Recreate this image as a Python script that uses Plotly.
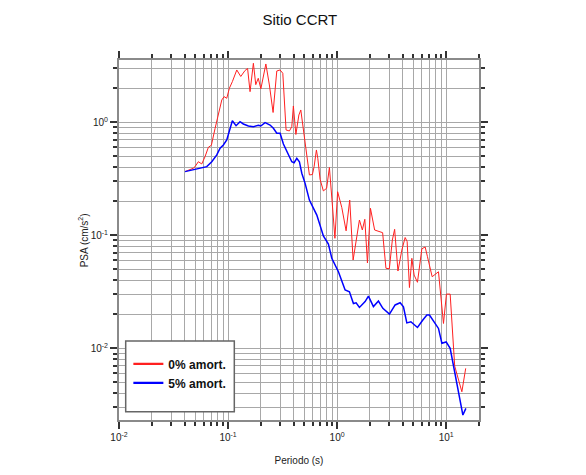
import plotly.graph_objects as go

# Periods (s) and PSA (cm/s^2)
t_0 = [0.0403, 0.0480, 0.0498, 0.0534, 0.0574, 0.0615, 0.0660, 0.0703, 0.0760, 0.0818,
       0.0876, 0.0919, 0.0973, 0.1028, 0.1095, 0.1202, 0.1308, 0.1432, 0.1510, 0.1591,
       0.1707, 0.1795, 0.1892, 0.2000, 0.2222, 0.2393, 0.2587, 0.2798, 0.300, 0.3177,
       0.3404, 0.3650, 0.3841, 0.3973, 0.4188, 0.4462, 0.4645, 0.4845, 0.5087, 0.5272,
       0.557, 0.5935, 0.6152, 0.6459, 0.6652, 0.6982, 0.7485, 0.8012, 0.850, 0.9094,
       0.9545, 1.011, 1.104, 1.209, 1.305, 1.402, 1.503, 1.602, 1.703, 1.795,
       1.897, 2.021, 2.208, 2.615, 2.804, 3.012, 3.209, 3.369, 3.613, 3.923,
       4.206, 4.387, 4.605, 4.845, 5.085, 5.454, 5.984, 6.416, 6.736, 7.440,
       8.50, 9.445, 10.06, 10.88, 11.97, 13.93, 15.10]
psa_0 = [0.366, 0.392, 0.405, 0.448, 0.428, 0.496, 0.601, 0.626, 0.881, 1.234,
         1.575, 1.685, 1.631, 2.0, 2.288, 2.902, 2.543, 2.873, 2.993, 1.866,
         3.327, 2.151, 2.451, 1.979, 3.280, 2.138, 1.221, 2.844, 2.902, 2.714,
         0.855, 0.838, 0.914, 1.394, 0.780, 1.160, 1.285, 0.946, 0.652, 0.496,
         0.342, 0.345, 0.405, 0.569, 0.480, 0.312, 0.247, 0.2606, 0.398, 0.1745,
         0.0941, 0.243, 0.176, 0.1096, 0.205, 0.0605, 0.0956, 0.1366, 0.1114, 0.1386,
         0.0569, 0.1734, 0.1114, 0.1055, 0.0511, 0.0506, 0.0908, 0.113, 0.0483, 0.0741,
         0.0956, 0.0881, 0.0345, 0.0626, 0.0445, 0.0384, 0.0760, 0.0788, 0.0647, 0.0430,
         0.0476, 0.0166, 0.0302, 0.0302, 0.00697, 0.00413, 0.00665]

t_5 = [0.0403, 0.0498, 0.0638, 0.0709, 0.0788, 0.0845, 0.0906, 0.0973, 0.1028, 0.1095,
       0.1184, 0.1288, 0.1381, 0.1536, 0.1707, 0.1897, 0.1995, 0.2185, 0.2428, 0.2604,
       0.2798, 0.300, 0.3217, 0.3455, 0.3841, 0.4031, 0.4268, 0.4510, 0.4744, 0.5087,
       0.557, 0.6515, 0.7485, 0.832, 0.894, 1.028, 1.184, 1.297, 1.411, 1.494,
       1.602, 1.806, 1.937, 2.153, 2.393, 2.627, 3.019, 3.405, 3.784, 4.058,
       4.358, 4.745, 5.454, 6.111, 6.651, 7.028, 7.929, 8.500, 9.134, 10.0,
       10.88, 11.67, 12.54, 14.23, 15.16]
psa_5 = [0.366, 0.386, 0.405, 0.448, 0.514, 0.589, 0.630, 0.697, 0.855, 1.033,
         0.933, 1.012, 0.966, 0.927, 0.914, 0.941, 0.927, 0.992, 0.946, 0.885,
         0.799, 0.799, 0.643, 0.549, 0.448, 0.439, 0.480, 0.448, 0.354, 0.288,
         0.205, 0.151, 0.0986, 0.0838, 0.0626, 0.0476, 0.0328, 0.0317, 0.0249, 0.0253,
         0.0230, 0.0259, 0.0290, 0.0234, 0.0262, 0.0226, 0.0201, 0.0242, 0.0253, 0.0233,
         0.0168, 0.0172, 0.0153, 0.0178, 0.0197, 0.0197, 0.0166, 0.0150, 0.0111, 0.0114,
         0.0100, 0.00687, 0.0049, 0.00257, 0.00294]

series_names = ["<b>0% amort.</b>", "<b>5% amort.</b>"]
series_colors = ["#ff2020", "#0000ff"]

x_major = [0.01, 0.1, 1, 10]
x_major_text = ["10<sup>-2</sup>", "10<sup>-1</sup>", "10<sup>0</sup>", "10<sup>1</sup>"]
y_major = [0.01, 0.1, 1]
y_major_text = ["10<sup>-2</sup>", "10<sup>-1</sup>", "10<sup>0</sup>"]

x_minor = [m * 10 ** e for e in (-2, -1, 0, 1) for m in range(1, 10) if m * 10 ** e <= 20] + [20]
y_minor = [m * 10 ** e for e in (-3, -2, -1, 0) for m in range(1, 10) if 0.002 <= m * 10 ** e <= 3.6]

FONT = "Liberation Sans, Arial, Helvetica, sans-serif"
GRID = "#a8a8a8"
AX = "#8a8a8a"

fig = go.Figure()
fig.add_trace(go.Scatter(x=t_0, y=psa_0, mode="lines", showlegend=False,
                         line=dict(color=series_colors[0], width=1)))
fig.add_trace(go.Scatter(x=t_5, y=psa_5, mode="lines", showlegend=False,
                         line=dict(color=series_colors[1], width=1.5)))
# legend entries (thicker sample lines, no data drawn)
for nm, col in zip(series_names, series_colors):
    fig.add_trace(go.Scatter(x=[None], y=[None], mode="lines", name=nm,
                             line=dict(color=col, width=2.2)))

axis_common = dict(type="log", showline=True, linecolor=AX, linewidth=2, mirror="ticks",
                   ticks="outside", ticklen=7, tickwidth=2, tickcolor="#333",
                   showgrid=True, gridcolor=GRID, gridwidth=1, zeroline=False, automargin=False,
                   tickfont=dict(size=10, color="#222", family=FONT))

fig.update_xaxes(**axis_common, range=[-2, 1.30103], tickvals=x_major, ticktext=x_major_text,
                 minor=dict(tickvals=x_minor, ticks="outside", ticklen=4, tickcolor="#333",
                            tickwidth=1.5, showgrid=True, gridcolor=GRID, gridwidth=1),
                 title=dict(text="Periodo (s)", font=dict(size=10, color="#222", family=FONT), standoff=15))
fig.update_yaxes(**axis_common, range=[-2.634, 0.551], tickvals=y_major, ticktext=y_major_text,
                 minor=dict(tickvals=y_minor, ticks="outside", ticklen=4, tickcolor="#333",
                            tickwidth=1.5, showgrid=True, gridcolor=GRID, gridwidth=1))

fig.add_annotation(text="PSA (cm/s<sup>2</sup>)", xref="paper", yref="paper", x=-0.099, y=0.5,
                   xanchor="center", yanchor="middle", textangle=-90, showarrow=False,
                   font=dict(size=10, color="#222", family=FONT))

# legend frame
fig.add_shape(type="rect", xref="paper", yref="paper", x0=0.0186, x1=0.3203, y0=0.023, y1=0.2194,
              line=dict(color="#666", width=1.5), fillcolor="white", layer="above")

fig.update_layout(
    width=578, height=467,
    margin=dict(l=111, r=107, t=52, b=55, autoexpand=False),
    paper_bgcolor="white", plot_bgcolor="white",
    title=dict(text="Sitio CCRT", x=0.505, xanchor="center", y=0.9743, yanchor="middle",
               yref="container", font=dict(size=15, color="#111", family=FONT)),
    font=dict(family=FONT),
    showlegend=True,
    legend=dict(x=0.026, y=0.196, xanchor="left", yanchor="top",
                bgcolor="rgba(0,0,0,0)", borderwidth=0,
                font=dict(size=12, color="#111", family=FONT), itemwidth=30),
)

fig.write_html("out.html")
